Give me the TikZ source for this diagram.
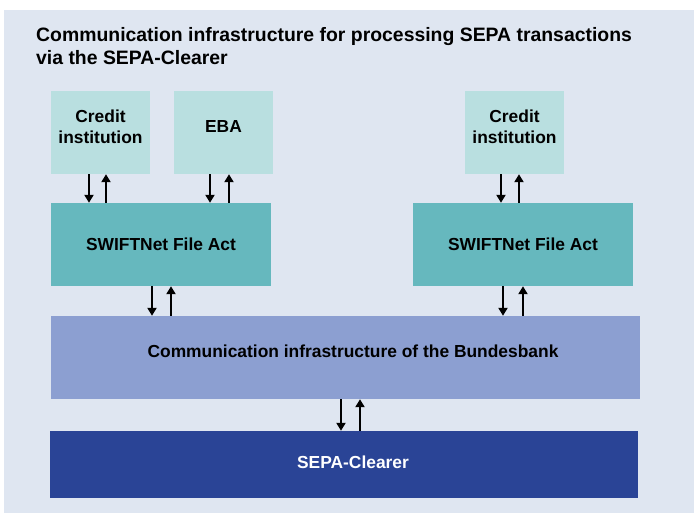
\documentclass[tikz,border=0pt]{standalone}
\usepackage{fontspec}
\setmainfont{Liberation Sans}
\usetikzlibrary{arrows.meta,positioning,calc}
\usepackage{xcolor}

\definecolor{panelbg}{HTML}{DFE6F1}
\definecolor{paleteal}{HTML}{B9DFE0}
\definecolor{swiftteal}{HTML}{66B8BE}
\definecolor{bbblue}{HTML}{8C9FD1}
\definecolor{clearerblue}{HTML}{2A4496}

\begin{document}
\begin{tikzpicture}[x=1pt, y=-1pt,
  box/.style={rectangle, inner sep=0pt, align=center, text=black,
    font=\fontsize{17.4}{21.2}\selectfont\bfseries},
  party/.style={box, fill=paleteal, minimum width=99pt, minimum height=83pt, text depth=12pt},
  swift/.style={box, fill=swiftteal, minimum width=220pt, minimum height=83pt},
  flow/.style={line width=2pt, -{Triangle[length=8pt,width=9pt]}}
]
\useasboundingbox (0,0) rectangle (694,513);
\fill[panelbg] (4,10) rectangle (694,513);

\node[anchor=north west, inner sep=0pt, align=left,
  font=\fontsize{19.4}{23}\selectfont\bfseries] (title) at (36,27)
  {Communication infrastructure for processing SEPA transactions\\
   via the SEPA-Clearer};

% participants
\node[party] (ci1) at (100.5,132.5) {Credit\\institution};
\node[party] (eba) at (223.5,132.5) {EBA};
\node[party] (ci2) at (514.5,132.5) {Credit\\institution};

% SWIFTNet
\node[swift] (sw1) at (161,244.5) {SWIFTNet File Act};
\node[swift] (sw2) at (523,244.5) {SWIFTNet File Act};

% Bundesbank and clearer
\node[box, fill=bbblue, minimum width=589pt, minimum height=83pt, text depth=12pt] (bb)
  at (345.5,357.5) {\hspace*{15pt}Communication infrastructure of the Bundesbank};
\node[box, fill=clearerblue, text=white, minimum width=588pt, minimum height=67pt, text depth=5pt] (clearer)
  at (344,464.5) {\hspace*{18pt}SEPA-Clearer};

% arrows
\draw[flow] ([xshift=-11.5pt]ci1.south) -- ([xshift=-11.5pt]ci1.south |- sw1.north);
\draw[flow] ([xshift=5.5pt]ci1.south |- sw1.north) -- ([xshift=5.5pt]ci1.south);
\draw[flow] ([xshift=-13.5pt]eba.south) -- ([xshift=-13.5pt]eba.south |- sw1.north);
\draw[flow] ([xshift=5.5pt]eba.south |- sw1.north) -- ([xshift=5.5pt]eba.south);
\draw[flow] ([xshift=-13.5pt]ci2.south) -- ([xshift=-13.5pt]ci2.south |- sw2.north);
\draw[flow] ([xshift=4.5pt]ci2.south |- sw2.north) -- ([xshift=4.5pt]ci2.south);

\draw[flow] ([xshift=-9pt]sw1.south) -- ([xshift=-9pt]sw1.south |- bb.north);
\draw[flow] ([xshift=10pt]sw1.south |- bb.north) -- ([xshift=10pt]sw1.south);
\draw[flow] ([xshift=-20pt]sw2.south) -- ([xshift=-20pt]sw2.south |- bb.north);
\draw[flow] ([xshift=0pt]sw2.south |- bb.north) -- ([xshift=0pt]sw2.south);

\draw[flow] ([xshift=-4.5pt]bb.south) -- ([xshift=-4.5pt]bb.south |- clearer.north);
\draw[flow] ([xshift=14.5pt]bb.south |- clearer.north) -- ([xshift=14.5pt]bb.south);

\end{tikzpicture}
\end{document}
